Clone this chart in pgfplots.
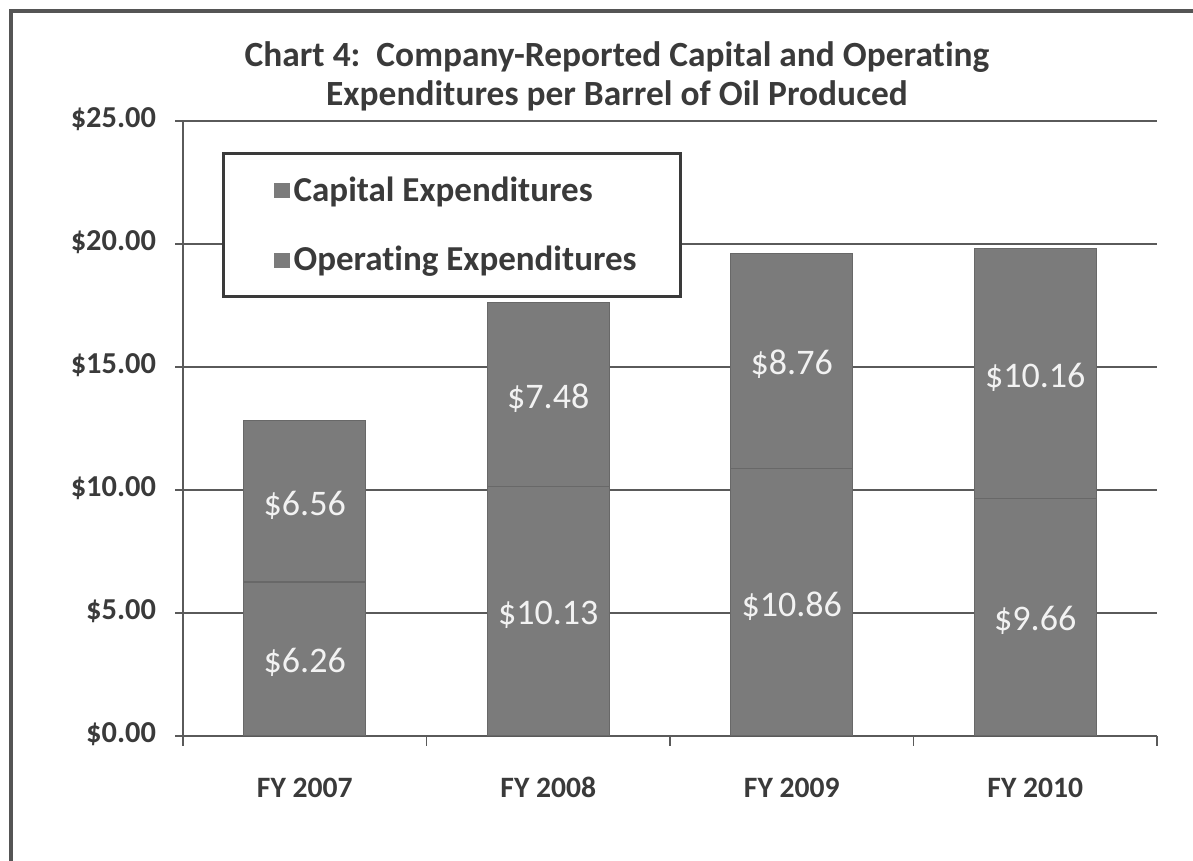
\documentclass[border=0pt]{standalone}
\usepackage{pgfplots}
\pgfplotsset{compat=1.18}
\usepackage{fontspec}
\setmainfont{Carlito}[Ligatures=NoCommon]
\definecolor{barc}{HTML}{7B7B7B}
\definecolor{bare}{HTML}{686868}
\definecolor{txt}{HTML}{3A3A3A}
\definecolor{gridc}{HTML}{5A5A5A}
\definecolor{framec}{HTML}{555555}
\definecolor{lbl}{HTML}{F2F2F2}
\begin{document}
\begin{tikzpicture}
\useasboundingbox (0pt,0pt) rectangle (596.5pt,430.5pt);
\draw[framec, line width=1.8pt] (5.5pt,0pt) -- (5.5pt,425pt) -- (596.5pt,425pt);
\node[align=center, text=txt, font=\bfseries\fontsize{17.7}{19.5}\selectfont] at (308.5pt,392.5pt)
  {Chart 4:\ \ Company-Reported Capital and Operating\\Expenditures per Barrel of Oil Produced};
\begin{axis}[
  at={(91.5pt,62.5pt)}, anchor=south west,
  scale only axis, width=487pt, height=307.5pt,
  ybar stacked, bar width=61pt,
  xmin=-0.5, xmax=3.5, ymin=0, ymax=25,
  xtick={0,1,2,3}, xticklabels={FY 2007,FY 2008,FY 2009,FY 2010},
  minor xtick={-0.5,0.5,1.5,2.5,3.5},
  ytick={0,5,10,15,20,25},
  yticklabels={\$0.00,\$5.00,\$10.00,\$15.00,\$20.00,\$25.00},
  axis lines=left, axis line style={-, gridc, line width=0.8pt},
  ymajorgrids, grid style={gridc, line width=1pt},
  tick align=outside,
  major x tick style={draw=none},
  minor x tick style={gridc, line width=0.8pt},
  minor tick length=5pt,
  y tick style={gridc, line width=0.8pt},
  major tick length=4pt,
  typeset ticklabels with strut,
  xticklabel style={font=\bfseries\fontsize{14.8}{16}\selectfont, text=txt, yshift=-12pt},
  yticklabel style={font=\bfseries\fontsize{15.2}{16}\selectfont, text=txt, xshift=-6pt},
  legend style={at={(0.040,0.949)}, anchor=north west, draw=txt, line width=1.5pt, fill=white,
    font=\bfseries\fontsize{17.5}{21}\selectfont, text=txt, inner xsep=20pt, inner ysep=9.5pt,
    row sep=17pt, cells={anchor=west}},
  legend image code/.code={\path (0pt,0pt); \fill[barc] (5.5pt,-3.5pt) rectangle (12.5pt,3.5pt);},
  reverse legend,
]
\addplot[fill=barc, draw=bare, line width=0.6pt] coordinates {(0,6.26) (1,10.13) (2,10.86) (3,9.66)};
\addplot[fill=barc, draw=bare, line width=0.6pt] coordinates {(0,6.56) (1,7.48) (2,8.76) (3,10.16)};
\legend{Operating Expenditures, Capital Expenditures}
\end{axis}
\begin{axis}[
  at={(91.5pt,62.5pt)}, anchor=south west,
  scale only axis, width=487pt, height=307.5pt,
  xmin=-0.5, xmax=3.5, ymin=0, ymax=25,
  hide axis,
  /pgf/number format/assume math mode=true,
]
\addplot[draw=none, mark=none, point meta=explicit,
  nodes near coords={\$\pgfmathprintnumber[fixed,fixed zerofill,precision=2]{\pgfplotspointmeta}},
  every node near coord/.append style={anchor=center, yshift=-1.8pt, text=lbl, font=\fontsize{18}{20}\selectfont}]
  coordinates {(0,3.13) [6.26] (1,5.065) [10.13] (2,5.43) [10.86] (3,4.83) [9.66]
               (0,9.54) [6.56] (1,13.87) [7.48] (2,15.24) [8.76] (3,14.74) [10.16]};
\end{axis}
\end{tikzpicture}
\end{document}
